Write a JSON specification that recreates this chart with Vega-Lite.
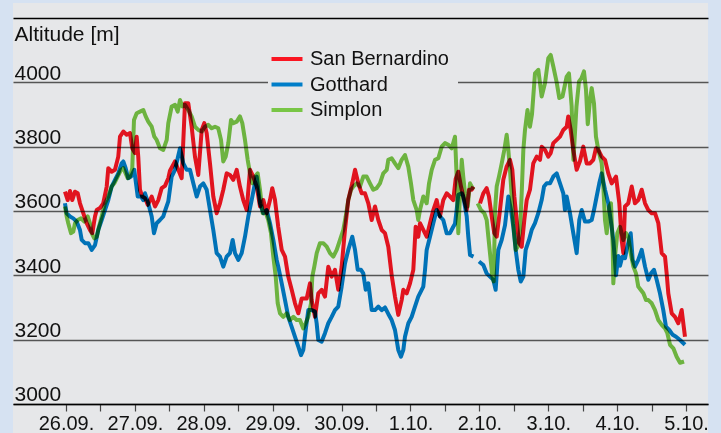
{
"$schema": "https://vega.github.io/schema/vega-lite/v6.json",
"width": 695,
"height": 430,
"autosize": {"type": "none"},
"padding": {"left": 13, "top": 3, "right": 13, "bottom": 0},
"background": "#d6e2f2",
"config": {"view": {"fill": "#e6e7e9", "stroke": null}, "font": "Liberation Sans"},
"data": {"values": [
{"pass":"San Bernardino","day":-0.015,"alt":3660},{"pass":"San Bernardino","day":0.025,"alt":3634},{"pass":"San Bernardino","day":0.058,"alt":3662},{"pass":"San Bernardino","day":0.091,"alt":3634},{"pass":"San Bernardino","day":0.131,"alt":3660},{"pass":"San Bernardino","day":0.170,"alt":3655},{"pass":"San Bernardino","day":0.203,"alt":3624},{"pass":"San Bernardino","day":0.251,"alt":3593},{"pass":"San Bernardino","day":0.300,"alt":3562},{"pass":"San Bernardino","day":0.348,"alt":3541},{"pass":"San Bernardino","day":0.382,"alt":3531},{"pass":"San Bernardino","day":0.421,"alt":3583},{"pass":"San Bernardino","day":0.446,"alt":3603},{"pass":"San Bernardino","day":0.493,"alt":3609},{"pass":"San Bernardino","day":0.541,"alt":3624},{"pass":"San Bernardino","day":0.591,"alt":3676},{"pass":"San Bernardino","day":0.614,"alt":3733},{"pass":"San Bernardino","day":0.663,"alt":3722},{"pass":"San Bernardino","day":0.711,"alt":3728},{"pass":"San Bernardino","day":0.759,"alt":3769},{"pass":"San Bernardino","day":0.784,"alt":3831},{"pass":"San Bernardino","day":0.832,"alt":3847},{"pass":"San Bernardino","day":0.881,"alt":3837},{"pass":"San Bernardino","day":0.929,"alt":3842},{"pass":"San Bernardino","day":0.962,"alt":3795},{"pass":"San Bernardino","day":1.001,"alt":3780},{"pass":"San Bernardino","day":1.026,"alt":3831},{"pass":"San Bernardino","day":1.049,"alt":3769},{"pass":"San Bernardino","day":1.074,"alt":3666},{"pass":"San Bernardino","day":1.107,"alt":3645},{"pass":"San Bernardino","day":1.147,"alt":3640},{"pass":"San Bernardino","day":1.186,"alt":3619},{"pass":"San Bernardino","day":1.244,"alt":3645},{"pass":"San Bernardino","day":1.292,"alt":3614},{"pass":"San Bernardino","day":1.340,"alt":3634},{"pass":"San Bernardino","day":1.389,"alt":3671},{"pass":"San Bernardino","day":1.437,"alt":3678},{"pass":"San Bernardino","day":1.485,"alt":3702},{"pass":"San Bernardino","day":1.509,"alt":3725},{"pass":"San Bernardino","day":1.582,"alt":3754},{"pass":"San Bernardino","day":1.630,"alt":3728},{"pass":"San Bernardino","day":1.679,"alt":3702},{"pass":"San Bernardino","day":1.727,"alt":3935},{"pass":"San Bernardino","day":1.775,"alt":3935},{"pass":"San Bernardino","day":1.824,"alt":3862},{"pass":"San Bernardino","day":1.872,"alt":3769},{"pass":"San Bernardino","day":1.920,"alt":3712},{"pass":"San Bernardino","day":1.970,"alt":3852},{"pass":"San Bernardino","day":2.007,"alt":3873},{"pass":"San Bernardino","day":2.042,"alt":3842},{"pass":"San Bernardino","day":2.090,"alt":3748},{"pass":"San Bernardino","day":2.138,"alt":3645},{"pass":"San Bernardino","day":2.187,"alt":3593},{"pass":"San Bernardino","day":2.235,"alt":3624},{"pass":"San Bernardino","day":2.283,"alt":3666},{"pass":"San Bernardino","day":2.332,"alt":3717},{"pass":"San Bernardino","day":2.380,"alt":3712},{"pass":"San Bernardino","day":2.428,"alt":3697},{"pass":"San Bernardino","day":2.478,"alt":3728},{"pass":"San Bernardino","day":2.525,"alt":3676},{"pass":"San Bernardino","day":2.573,"alt":3634},{"pass":"San Bernardino","day":2.623,"alt":3603},{"pass":"San Bernardino","day":2.671,"alt":3728},{"pass":"San Bernardino","day":2.718,"alt":3707},{"pass":"San Bernardino","day":2.768,"alt":3676},{"pass":"San Bernardino","day":2.816,"alt":3614},{"pass":"San Bernardino","day":2.864,"alt":3634},{"pass":"San Bernardino","day":2.913,"alt":3593},{"pass":"San Bernardino","day":2.961,"alt":3634},{"pass":"San Bernardino","day":2.994,"alt":3671},{"pass":"San Bernardino","day":3.033,"alt":3635},{"pass":"San Bernardino","day":3.081,"alt":3550},{"pass":"San Bernardino","day":3.131,"alt":3479},{"pass":"San Bernardino","day":3.179,"alt":3458},{"pass":"San Bernardino","day":3.226,"alt":3396},{"pass":"San Bernardino","day":3.276,"alt":3355},{"pass":"San Bernardino","day":3.324,"alt":3313},{"pass":"San Bernardino","day":3.372,"alt":3282},{"pass":"San Bernardino","day":3.421,"alt":3328},{"pass":"San Bernardino","day":3.494,"alt":3328},{"pass":"San Bernardino","day":3.541,"alt":3375},{"pass":"San Bernardino","day":3.566,"alt":3323},{"pass":"San Bernardino","day":3.614,"alt":3271},{"pass":"San Bernardino","day":3.662,"alt":3344},{"pass":"San Bernardino","day":3.711,"alt":3355},{"pass":"San Bernardino","day":3.759,"alt":3334},{"pass":"San Bernardino","day":3.807,"alt":3427},{"pass":"San Bernardino","day":3.856,"alt":3396},{"pass":"San Bernardino","day":3.904,"alt":3417},{"pass":"San Bernardino","day":3.952,"alt":3355},{"pass":"San Bernardino","day":4.001,"alt":3427},{"pass":"San Bernardino","day":4.049,"alt":3541},{"pass":"San Bernardino","day":4.097,"alt":3634},{"pass":"San Bernardino","day":4.155,"alt":3686},{"pass":"San Bernardino","day":4.195,"alt":3728},{"pass":"San Bernardino","day":4.242,"alt":3686},{"pass":"San Bernardino","day":4.292,"alt":3655},{"pass":"San Bernardino","day":4.340,"alt":3655},{"pass":"San Bernardino","day":4.388,"alt":3624},{"pass":"San Bernardino","day":4.437,"alt":3572},{"pass":"San Bernardino","day":4.485,"alt":3614},{"pass":"San Bernardino","day":4.533,"alt":3572},{"pass":"San Bernardino","day":4.582,"alt":3541},{"pass":"San Bernardino","day":4.630,"alt":3531},{"pass":"San Bernardino","day":4.678,"alt":3489},{"pass":"San Bernardino","day":4.727,"alt":3400},{"pass":"San Bernardino","day":4.775,"alt":3334},{"pass":"San Bernardino","day":4.823,"alt":3277},{"pass":"San Bernardino","day":4.872,"alt":3323},{"pass":"San Bernardino","day":4.896,"alt":3355},{"pass":"San Bernardino","day":4.945,"alt":3344},{"pass":"San Bernardino","day":4.993,"alt":3375},{"pass":"San Bernardino","day":5.041,"alt":3417},{"pass":"San Bernardino","day":5.075,"alt":3551},{"pass":"San Bernardino","day":5.113,"alt":3520},{"pass":"San Bernardino","day":5.138,"alt":3562},{"pass":"San Bernardino","day":5.186,"alt":3541},{"pass":"San Bernardino","day":5.235,"alt":3520},{"pass":"San Bernardino","day":5.283,"alt":3562},{"pass":"San Bernardino","day":5.331,"alt":3603},{"pass":"San Bernardino","day":5.380,"alt":3634},{"pass":"San Bernardino","day":5.428,"alt":3583},{"pass":"San Bernardino","day":5.476,"alt":3634},{"pass":"San Bernardino","day":5.525,"alt":3655},{"pass":"San Bernardino","day":5.573,"alt":3645},{"pass":"San Bernardino","day":5.621,"alt":3634},{"pass":"San Bernardino","day":5.656,"alt":3700},{"pass":"San Bernardino","day":5.694,"alt":3722},{"pass":"San Bernardino","day":5.733,"alt":3676},{"pass":"San Bernardino","day":5.766,"alt":3645},{"pass":"San Bernardino","day":5.816,"alt":3603},{"pass":"San Bernardino","day":5.849,"alt":3666},{"pass":"San Bernardino","day":5.888,"alt":3666},{"pass":"San Bernardino","day":5.912,"alt":3676},{"pass":"San Bernardino","day":5.951,"alt":null},{"pass":"San Bernardino","day":6.009,"alt":3624},{"pass":"San Bernardino","day":6.057,"alt":3655},{"pass":"San Bernardino","day":6.106,"alt":3671},{"pass":"San Bernardino","day":6.139,"alt":3645},{"pass":"San Bernardino","day":6.179,"alt":3583},{"pass":"San Bernardino","day":6.216,"alt":3531},{"pass":"San Bernardino","day":6.251,"alt":3520},{"pass":"San Bernardino","day":6.299,"alt":3603},{"pass":"San Bernardino","day":6.347,"alt":3697},{"pass":"San Bernardino","day":6.396,"alt":3738},{"pass":"San Bernardino","day":6.444,"alt":3759},{"pass":"San Bernardino","day":6.478,"alt":3728},{"pass":"San Bernardino","day":6.507,"alt":3645},{"pass":"San Bernardino","day":6.541,"alt":3572},{"pass":"San Bernardino","day":6.575,"alt":3500},{"pass":"San Bernardino","day":6.614,"alt":3489},{"pass":"San Bernardino","day":6.652,"alt":3572},{"pass":"San Bernardino","day":6.687,"alt":3634},{"pass":"San Bernardino","day":6.734,"alt":3666},{"pass":"San Bernardino","day":6.782,"alt":3748},{"pass":"San Bernardino","day":6.832,"alt":3769},{"pass":"San Bernardino","day":6.880,"alt":3759},{"pass":"San Bernardino","day":6.904,"alt":3800},{"pass":"San Bernardino","day":6.952,"alt":3790},{"pass":"San Bernardino","day":7.000,"alt":3769},{"pass":"San Bernardino","day":7.035,"alt":3780},{"pass":"San Bernardino","day":7.073,"alt":3811},{"pass":"San Bernardino","day":7.122,"alt":3821},{"pass":"San Bernardino","day":7.170,"alt":3831},{"pass":"San Bernardino","day":7.218,"alt":3852},{"pass":"San Bernardino","day":7.267,"alt":3862},{"pass":"San Bernardino","day":7.290,"alt":3894},{"pass":"San Bernardino","day":7.325,"alt":3852},{"pass":"San Bernardino","day":7.363,"alt":3790},{"pass":"San Bernardino","day":7.412,"alt":3728},{"pass":"San Bernardino","day":7.460,"alt":3755},{"pass":"San Bernardino","day":7.508,"alt":3800},{"pass":"San Bernardino","day":7.557,"alt":3748},{"pass":"San Bernardino","day":7.605,"alt":3748},{"pass":"San Bernardino","day":7.653,"alt":3759},{"pass":"San Bernardino","day":7.692,"alt":3795},{"pass":"San Bernardino","day":7.726,"alt":3790},{"pass":"San Bernardino","day":7.775,"alt":3769},{"pass":"San Bernardino","day":7.823,"alt":3759},{"pass":"San Bernardino","day":7.871,"alt":3717},{"pass":"San Bernardino","day":7.920,"alt":3686},{"pass":"San Bernardino","day":7.983,"alt":3707},{"pass":"San Bernardino","day":8.031,"alt":3624},{"pass":"San Bernardino","day":8.065,"alt":3510},{"pass":"San Bernardino","day":8.089,"alt":3469},{"pass":"San Bernardino","day":8.113,"alt":3614},{"pass":"San Bernardino","day":8.161,"alt":3624},{"pass":"San Bernardino","day":8.211,"alt":3676},{"pass":"San Bernardino","day":8.258,"alt":3624},{"pass":"San Bernardino","day":8.306,"alt":3634},{"pass":"San Bernardino","day":8.356,"alt":3666},{"pass":"San Bernardino","day":8.404,"alt":3624},{"pass":"San Bernardino","day":8.452,"alt":3603},{"pass":"San Bernardino","day":8.501,"alt":3593},{"pass":"San Bernardino","day":8.549,"alt":3593},{"pass":"San Bernardino","day":8.597,"alt":3562},{"pass":"San Bernardino","day":8.646,"alt":3469},{"pass":"San Bernardino","day":8.694,"alt":3458},{"pass":"San Bernardino","day":8.718,"alt":3406},{"pass":"San Bernardino","day":8.742,"alt":3344},{"pass":"San Bernardino","day":8.791,"alt":3282},{"pass":"San Bernardino","day":8.839,"alt":3271},{"pass":"San Bernardino","day":8.887,"alt":3251},{"pass":"San Bernardino","day":8.936,"alt":3292},{"pass":"San Bernardino","day":8.984,"alt":3209},
{"pass":"Gotthard","day":-0.015,"alt":3624},{"pass":"Gotthard","day":0.010,"alt":3593},{"pass":"Gotthard","day":0.058,"alt":3583},{"pass":"Gotthard","day":0.106,"alt":3577},{"pass":"Gotthard","day":0.155,"alt":3567},{"pass":"Gotthard","day":0.203,"alt":3541},{"pass":"Gotthard","day":0.228,"alt":3510},{"pass":"Gotthard","day":0.276,"alt":3500},{"pass":"Gotthard","day":0.324,"alt":3500},{"pass":"Gotthard","day":0.373,"alt":3479},{"pass":"Gotthard","day":0.421,"alt":3494},{"pass":"Gotthard","day":0.469,"alt":3541},{"pass":"Gotthard","day":0.518,"alt":3572},{"pass":"Gotthard","day":0.566,"alt":3603},{"pass":"Gotthard","day":0.614,"alt":3634},{"pass":"Gotthard","day":0.663,"alt":3676},{"pass":"Gotthard","day":0.711,"alt":3697},{"pass":"Gotthard","day":0.759,"alt":3717},{"pass":"Gotthard","day":0.808,"alt":3748},{"pass":"Gotthard","day":0.832,"alt":3754},{"pass":"Gotthard","day":0.866,"alt":3733},{"pass":"Gotthard","day":0.904,"alt":3702},{"pass":"Gotthard","day":0.943,"alt":3707},{"pass":"Gotthard","day":0.991,"alt":3728},{"pass":"Gotthard","day":1.016,"alt":3686},{"pass":"Gotthard","day":1.041,"alt":3645},{"pass":"Gotthard","day":1.089,"alt":3645},{"pass":"Gotthard","day":1.122,"alt":3634},{"pass":"Gotthard","day":1.147,"alt":3655},{"pass":"Gotthard","day":1.194,"alt":3624},{"pass":"Gotthard","day":1.244,"alt":3583},{"pass":"Gotthard","day":1.277,"alt":3531},{"pass":"Gotthard","day":1.316,"alt":3562},{"pass":"Gotthard","day":1.364,"alt":3572},{"pass":"Gotthard","day":1.412,"alt":3583},{"pass":"Gotthard","day":1.437,"alt":3600},{"pass":"Gotthard","day":1.485,"alt":3630},{"pass":"Gotthard","day":1.534,"alt":3707},{"pass":"Gotthard","day":1.582,"alt":3728},{"pass":"Gotthard","day":1.655,"alt":3795},{"pass":"Gotthard","day":1.703,"alt":3748},{"pass":"Gotthard","day":1.752,"alt":3728},{"pass":"Gotthard","day":1.800,"alt":3728},{"pass":"Gotthard","day":1.848,"alt":3686},{"pass":"Gotthard","day":1.897,"alt":3645},{"pass":"Gotthard","day":1.945,"alt":3676},{"pass":"Gotthard","day":1.993,"alt":3686},{"pass":"Gotthard","day":2.042,"alt":3666},{"pass":"Gotthard","day":2.090,"alt":3603},{"pass":"Gotthard","day":2.138,"alt":3541},{"pass":"Gotthard","day":2.187,"alt":3469},{"pass":"Gotthard","day":2.235,"alt":3458},{"pass":"Gotthard","day":2.283,"alt":3427},{"pass":"Gotthard","day":2.332,"alt":3458},{"pass":"Gotthard","day":2.380,"alt":3469},{"pass":"Gotthard","day":2.419,"alt":3510},{"pass":"Gotthard","day":2.453,"alt":3469},{"pass":"Gotthard","day":2.501,"alt":3448},{"pass":"Gotthard","day":2.550,"alt":3469},{"pass":"Gotthard","day":2.598,"alt":3520},{"pass":"Gotthard","day":2.646,"alt":3583},{"pass":"Gotthard","day":2.695,"alt":3634},{"pass":"Gotthard","day":2.733,"alt":3676},{"pass":"Gotthard","day":2.768,"alt":3707},{"pass":"Gotthard","day":2.816,"alt":3624},{"pass":"Gotthard","day":2.864,"alt":3593},{"pass":"Gotthard","day":2.913,"alt":3603},{"pass":"Gotthard","day":2.961,"alt":3562},{"pass":"Gotthard","day":3.009,"alt":3510},{"pass":"Gotthard","day":3.058,"alt":3448},{"pass":"Gotthard","day":3.081,"alt":3427},{"pass":"Gotthard","day":3.131,"alt":3375},{"pass":"Gotthard","day":3.179,"alt":3323},{"pass":"Gotthard","day":3.226,"alt":3271},{"pass":"Gotthard","day":3.276,"alt":3240},{"pass":"Gotthard","day":3.324,"alt":3209},{"pass":"Gotthard","day":3.372,"alt":3178},{"pass":"Gotthard","day":3.411,"alt":3152},{"pass":"Gotthard","day":3.444,"alt":3168},{"pass":"Gotthard","day":3.479,"alt":3230},{"pass":"Gotthard","day":3.517,"alt":3292},{"pass":"Gotthard","day":3.566,"alt":3292},{"pass":"Gotthard","day":3.614,"alt":3287},{"pass":"Gotthard","day":3.638,"alt":3251},{"pass":"Gotthard","day":3.662,"alt":3199},{"pass":"Gotthard","day":3.711,"alt":3194},{"pass":"Gotthard","day":3.759,"alt":3220},{"pass":"Gotthard","day":3.807,"alt":3251},{"pass":"Gotthard","day":3.856,"alt":3271},{"pass":"Gotthard","day":3.904,"alt":3292},{"pass":"Gotthard","day":3.952,"alt":3303},{"pass":"Gotthard","day":4.001,"alt":3365},{"pass":"Gotthard","day":4.049,"alt":3437},{"pass":"Gotthard","day":4.097,"alt":3479},{"pass":"Gotthard","day":4.155,"alt":3520},{"pass":"Gotthard","day":4.195,"alt":3479},{"pass":"Gotthard","day":4.234,"alt":3417},{"pass":"Gotthard","day":4.282,"alt":3417},{"pass":"Gotthard","day":4.315,"alt":3406},{"pass":"Gotthard","day":4.350,"alt":3355},{"pass":"Gotthard","day":4.388,"alt":3375},{"pass":"Gotthard","day":4.437,"alt":3292},{"pass":"Gotthard","day":4.485,"alt":3292},{"pass":"Gotthard","day":4.533,"alt":3303},{"pass":"Gotthard","day":4.582,"alt":3292},{"pass":"Gotthard","day":4.630,"alt":3300},{"pass":"Gotthard","day":4.678,"alt":3280},{"pass":"Gotthard","day":4.727,"alt":3261},{"pass":"Gotthard","day":4.775,"alt":3230},{"pass":"Gotthard","day":4.823,"alt":3168},{"pass":"Gotthard","day":4.862,"alt":3147},{"pass":"Gotthard","day":4.896,"alt":3168},{"pass":"Gotthard","day":4.920,"alt":3209},{"pass":"Gotthard","day":4.969,"alt":3251},{"pass":"Gotthard","day":5.017,"alt":3271},{"pass":"Gotthard","day":5.065,"alt":3303},{"pass":"Gotthard","day":5.113,"alt":3334},{"pass":"Gotthard","day":5.186,"alt":3365},{"pass":"Gotthard","day":5.211,"alt":3417},{"pass":"Gotthard","day":5.235,"alt":3479},{"pass":"Gotthard","day":5.283,"alt":3520},{"pass":"Gotthard","day":5.331,"alt":3562},{"pass":"Gotthard","day":5.380,"alt":3603},{"pass":"Gotthard","day":5.428,"alt":3583},{"pass":"Gotthard","day":5.476,"alt":3572},{"pass":"Gotthard","day":5.525,"alt":3531},{"pass":"Gotthard","day":5.573,"alt":3531},{"pass":"Gotthard","day":5.621,"alt":3551},{"pass":"Gotthard","day":5.646,"alt":3560},{"pass":"Gotthard","day":5.670,"alt":3603},{"pass":"Gotthard","day":5.694,"alt":3650},{"pass":"Gotthard","day":5.744,"alt":3655},{"pass":"Gotthard","day":5.766,"alt":3645},{"pass":"Gotthard","day":5.816,"alt":3583},{"pass":"Gotthard","day":5.839,"alt":3520},{"pass":"Gotthard","day":5.864,"alt":3463},{"pass":"Gotthard","day":5.914,"alt":3458},{"pass":"Gotthard","day":5.951,"alt":null},{"pass":"Gotthard","day":5.994,"alt":3443},{"pass":"Gotthard","day":6.057,"alt":3432},{"pass":"Gotthard","day":6.106,"alt":3406},{"pass":"Gotthard","day":6.154,"alt":3396},{"pass":"Gotthard","day":6.202,"alt":3386},{"pass":"Gotthard","day":6.236,"alt":3355},{"pass":"Gotthard","day":6.275,"alt":3479},{"pass":"Gotthard","day":6.324,"alt":3510},{"pass":"Gotthard","day":6.372,"alt":3556},{"pass":"Gotthard","day":6.420,"alt":3645},{"pass":"Gotthard","day":6.459,"alt":3603},{"pass":"Gotthard","day":6.492,"alt":3551},{"pass":"Gotthard","day":6.527,"alt":3479},{"pass":"Gotthard","day":6.565,"alt":3417},{"pass":"Gotthard","day":6.600,"alt":3381},{"pass":"Gotthard","day":6.638,"alt":3396},{"pass":"Gotthard","day":6.672,"alt":3479},{"pass":"Gotthard","day":6.720,"alt":3510},{"pass":"Gotthard","day":6.759,"alt":3541},{"pass":"Gotthard","day":6.807,"alt":3562},{"pass":"Gotthard","day":6.855,"alt":3593},{"pass":"Gotthard","day":6.904,"alt":3634},{"pass":"Gotthard","day":6.938,"alt":3676},{"pass":"Gotthard","day":6.977,"alt":3686},{"pass":"Gotthard","day":7.025,"alt":3686},{"pass":"Gotthard","day":7.073,"alt":3707},{"pass":"Gotthard","day":7.122,"alt":3717},{"pass":"Gotthard","day":7.170,"alt":3686},{"pass":"Gotthard","day":7.218,"alt":3655},{"pass":"Gotthard","day":7.242,"alt":3603},{"pass":"Gotthard","day":7.267,"alt":3645},{"pass":"Gotthard","day":7.315,"alt":3593},{"pass":"Gotthard","day":7.363,"alt":3531},{"pass":"Gotthard","day":7.412,"alt":3469},{"pass":"Gotthard","day":7.450,"alt":3572},{"pass":"Gotthard","day":7.485,"alt":3603},{"pass":"Gotthard","day":7.533,"alt":3567},{"pass":"Gotthard","day":7.581,"alt":3567},{"pass":"Gotthard","day":7.630,"alt":3572},{"pass":"Gotthard","day":7.663,"alt":3603},{"pass":"Gotthard","day":7.702,"alt":3645},{"pass":"Gotthard","day":7.740,"alt":3686},{"pass":"Gotthard","day":7.775,"alt":3717},{"pass":"Gotthard","day":7.823,"alt":3666},{"pass":"Gotthard","day":7.871,"alt":3624},{"pass":"Gotthard","day":7.906,"alt":3572},{"pass":"Gotthard","day":7.944,"alt":3510},{"pass":"Gotthard","day":7.983,"alt":3400},{"pass":"Gotthard","day":8.016,"alt":3460},{"pass":"Gotthard","day":8.041,"alt":3430},{"pass":"Gotthard","day":8.074,"alt":3458},{"pass":"Gotthard","day":8.113,"alt":3453},{"pass":"Gotthard","day":8.147,"alt":3489},{"pass":"Gotthard","day":8.196,"alt":3531},{"pass":"Gotthard","day":8.225,"alt":3448},{"pass":"Gotthard","day":8.258,"alt":3427},{"pass":"Gotthard","day":8.306,"alt":3448},{"pass":"Gotthard","day":8.356,"alt":3479},{"pass":"Gotthard","day":8.404,"alt":3427},{"pass":"Gotthard","day":8.452,"alt":3386},{"pass":"Gotthard","day":8.491,"alt":3406},{"pass":"Gotthard","day":8.534,"alt":3417},{"pass":"Gotthard","day":8.573,"alt":3386},{"pass":"Gotthard","day":8.621,"alt":3344},{"pass":"Gotthard","day":8.669,"alt":3292},{"pass":"Gotthard","day":8.708,"alt":3240},{"pass":"Gotthard","day":8.756,"alt":3230},{"pass":"Gotthard","day":8.806,"alt":3215},{"pass":"Gotthard","day":8.854,"alt":3209},{"pass":"Gotthard","day":8.912,"alt":3199},{"pass":"Gotthard","day":8.984,"alt":3184},
{"pass":"Simplon","day":-0.015,"alt":3614},{"pass":"Simplon","day":0.010,"alt":3583},{"pass":"Simplon","day":0.033,"alt":3562},{"pass":"Simplon","day":0.073,"alt":3531},{"pass":"Simplon","day":0.106,"alt":3536},{"pass":"Simplon","day":0.131,"alt":3562},{"pass":"Simplon","day":0.170,"alt":3572},{"pass":"Simplon","day":0.218,"alt":3577},{"pass":"Simplon","day":0.266,"alt":3567},{"pass":"Simplon","day":0.315,"alt":3583},{"pass":"Simplon","day":0.348,"alt":3562},{"pass":"Simplon","day":0.373,"alt":3531},{"pass":"Simplon","day":0.411,"alt":3515},{"pass":"Simplon","day":0.446,"alt":3520},{"pass":"Simplon","day":0.479,"alt":3551},{"pass":"Simplon","day":0.518,"alt":3583},{"pass":"Simplon","day":0.566,"alt":3624},{"pass":"Simplon","day":0.614,"alt":3645},{"pass":"Simplon","day":0.663,"alt":3676},{"pass":"Simplon","day":0.701,"alt":3686},{"pass":"Simplon","day":0.750,"alt":3707},{"pass":"Simplon","day":0.798,"alt":3728},{"pass":"Simplon","day":0.832,"alt":3733},{"pass":"Simplon","day":0.866,"alt":3717},{"pass":"Simplon","day":0.896,"alt":3702},{"pass":"Simplon","day":0.929,"alt":3707},{"pass":"Simplon","day":0.962,"alt":3733},{"pass":"Simplon","day":0.987,"alt":3883},{"pass":"Simplon","day":1.026,"alt":3904},{"pass":"Simplon","day":1.074,"alt":3909},{"pass":"Simplon","day":1.122,"alt":3914},{"pass":"Simplon","day":1.157,"alt":3894},{"pass":"Simplon","day":1.194,"alt":3878},{"pass":"Simplon","day":1.244,"alt":3862},{"pass":"Simplon","day":1.282,"alt":3831},{"pass":"Simplon","day":1.316,"alt":3821},{"pass":"Simplon","day":1.364,"alt":3795},{"pass":"Simplon","day":1.412,"alt":3790},{"pass":"Simplon","day":1.462,"alt":3821},{"pass":"Simplon","day":1.485,"alt":3873},{"pass":"Simplon","day":1.534,"alt":3925},{"pass":"Simplon","day":1.582,"alt":3930},{"pass":"Simplon","day":1.621,"alt":3909},{"pass":"Simplon","day":1.655,"alt":3945},{"pass":"Simplon","day":1.688,"alt":3925},{"pass":"Simplon","day":1.727,"alt":3930},{"pass":"Simplon","day":1.775,"alt":3914},{"pass":"Simplon","day":1.824,"alt":3894},{"pass":"Simplon","day":1.872,"alt":3862},{"pass":"Simplon","day":1.920,"alt":3852},{"pass":"Simplon","day":1.970,"alt":3847},{"pass":"Simplon","day":2.017,"alt":3862},{"pass":"Simplon","day":2.065,"alt":3868},{"pass":"Simplon","day":2.115,"alt":3857},{"pass":"Simplon","day":2.163,"alt":3862},{"pass":"Simplon","day":2.210,"alt":3857},{"pass":"Simplon","day":2.250,"alt":3821},{"pass":"Simplon","day":2.283,"alt":3754},{"pass":"Simplon","day":2.318,"alt":3769},{"pass":"Simplon","day":2.356,"alt":3811},{"pass":"Simplon","day":2.395,"alt":3883},{"pass":"Simplon","day":2.428,"alt":3873},{"pass":"Simplon","day":2.478,"alt":3878},{"pass":"Simplon","day":2.525,"alt":3894},{"pass":"Simplon","day":2.559,"alt":3873},{"pass":"Simplon","day":2.598,"alt":3821},{"pass":"Simplon","day":2.637,"alt":3759},{"pass":"Simplon","day":2.671,"alt":3717},{"pass":"Simplon","day":2.704,"alt":3686},{"pass":"Simplon","day":2.743,"alt":3707},{"pass":"Simplon","day":2.782,"alt":3717},{"pass":"Simplon","day":2.816,"alt":3666},{"pass":"Simplon","day":2.855,"alt":3593},{"pass":"Simplon","day":2.903,"alt":3593},{"pass":"Simplon","day":2.936,"alt":3572},{"pass":"Simplon","day":2.975,"alt":3531},{"pass":"Simplon","day":3.009,"alt":3458},{"pass":"Simplon","day":3.044,"alt":3396},{"pass":"Simplon","day":3.073,"alt":3313},{"pass":"Simplon","day":3.106,"alt":3282},{"pass":"Simplon","day":3.154,"alt":3271},{"pass":"Simplon","day":3.203,"alt":3282},{"pass":"Simplon","day":3.251,"alt":3261},{"pass":"Simplon","day":3.299,"alt":3271},{"pass":"Simplon","day":3.348,"alt":3261},{"pass":"Simplon","day":3.396,"alt":3261},{"pass":"Simplon","day":3.444,"alt":3235},{"pass":"Simplon","day":3.479,"alt":3251},{"pass":"Simplon","day":3.517,"alt":3271},{"pass":"Simplon","day":3.556,"alt":3313},{"pass":"Simplon","day":3.575,"alt":3396},{"pass":"Simplon","day":3.604,"alt":3427},{"pass":"Simplon","day":3.639,"alt":3469},{"pass":"Simplon","day":3.686,"alt":3500},{"pass":"Simplon","day":3.734,"alt":3500},{"pass":"Simplon","day":3.784,"alt":3489},{"pass":"Simplon","day":3.832,"alt":3469},{"pass":"Simplon","day":3.880,"alt":3458},{"pass":"Simplon","day":3.929,"alt":3479},{"pass":"Simplon","day":3.977,"alt":3510},{"pass":"Simplon","day":4.025,"alt":3541},{"pass":"Simplon","day":4.060,"alt":3583},{"pass":"Simplon","day":4.097,"alt":3634},{"pass":"Simplon","day":4.137,"alt":3666},{"pass":"Simplon","day":4.170,"alt":3676},{"pass":"Simplon","day":4.219,"alt":3686},{"pass":"Simplon","day":4.267,"alt":3676},{"pass":"Simplon","day":4.315,"alt":3707},{"pass":"Simplon","day":4.364,"alt":3707},{"pass":"Simplon","day":4.412,"alt":3686},{"pass":"Simplon","day":4.460,"alt":3666},{"pass":"Simplon","day":4.509,"alt":3671},{"pass":"Simplon","day":4.557,"alt":3686},{"pass":"Simplon","day":4.605,"alt":3717},{"pass":"Simplon","day":4.655,"alt":3728},{"pass":"Simplon","day":4.678,"alt":3759},{"pass":"Simplon","day":4.727,"alt":3764},{"pass":"Simplon","day":4.775,"alt":3748},{"pass":"Simplon","day":4.823,"alt":3733},{"pass":"Simplon","day":4.872,"alt":3759},{"pass":"Simplon","day":4.920,"alt":3774},{"pass":"Simplon","day":4.968,"alt":3738},{"pass":"Simplon","day":5.007,"alt":3686},{"pass":"Simplon","day":5.041,"alt":3634},{"pass":"Simplon","day":5.090,"alt":3603},{"pass":"Simplon","day":5.113,"alt":3572},{"pass":"Simplon","day":5.138,"alt":3603},{"pass":"Simplon","day":5.186,"alt":3645},{"pass":"Simplon","day":5.235,"alt":3624},{"pass":"Simplon","day":5.269,"alt":3686},{"pass":"Simplon","day":5.308,"alt":3728},{"pass":"Simplon","day":5.356,"alt":3759},{"pass":"Simplon","day":5.404,"alt":3764},{"pass":"Simplon","day":5.453,"alt":3800},{"pass":"Simplon","day":5.501,"alt":3811},{"pass":"Simplon","day":5.549,"alt":3806},{"pass":"Simplon","day":5.598,"alt":3795},{"pass":"Simplon","day":5.646,"alt":3831},{"pass":"Simplon","day":5.670,"alt":3707},{"pass":"Simplon","day":5.694,"alt":3531},{"pass":"Simplon","day":5.719,"alt":3655},{"pass":"Simplon","day":5.744,"alt":3759},{"pass":"Simplon","day":5.766,"alt":3707},{"pass":"Simplon","day":5.791,"alt":3655},{"pass":"Simplon","day":5.830,"alt":3614},{"pass":"Simplon","day":5.864,"alt":3686},{"pass":"Simplon","day":5.914,"alt":3666},{"pass":"Simplon","day":5.951,"alt":null},{"pass":"Simplon","day":5.975,"alt":3624},{"pass":"Simplon","day":6.023,"alt":3603},{"pass":"Simplon","day":6.071,"alt":3593},{"pass":"Simplon","day":6.106,"alt":3572},{"pass":"Simplon","day":6.130,"alt":3520},{"pass":"Simplon","day":6.159,"alt":3458},{"pass":"Simplon","day":6.188,"alt":3396},{"pass":"Simplon","day":6.208,"alt":3381},{"pass":"Simplon","day":6.227,"alt":3603},{"pass":"Simplon","day":6.251,"alt":3676},{"pass":"Simplon","day":6.284,"alt":3707},{"pass":"Simplon","day":6.324,"alt":3748},{"pass":"Simplon","day":6.362,"alt":3790},{"pass":"Simplon","day":6.396,"alt":3837},{"pass":"Simplon","day":6.420,"alt":3790},{"pass":"Simplon","day":6.444,"alt":3728},{"pass":"Simplon","day":6.469,"alt":3645},{"pass":"Simplon","day":6.492,"alt":3562},{"pass":"Simplon","day":6.527,"alt":3479},{"pass":"Simplon","day":6.556,"alt":3489},{"pass":"Simplon","day":6.590,"alt":3541},{"pass":"Simplon","day":6.614,"alt":3655},{"pass":"Simplon","day":6.638,"alt":3790},{"pass":"Simplon","day":6.662,"alt":3852},{"pass":"Simplon","day":6.698,"alt":3914},{"pass":"Simplon","day":6.734,"alt":3862},{"pass":"Simplon","day":6.763,"alt":3900},{"pass":"Simplon","day":6.807,"alt":4028},{"pass":"Simplon","day":6.855,"alt":4039},{"pass":"Simplon","day":6.904,"alt":3956},{"pass":"Simplon","day":6.952,"alt":3997},{"pass":"Simplon","day":7.000,"alt":4075},{"pass":"Simplon","day":7.035,"alt":4085},{"pass":"Simplon","day":7.073,"alt":4049},{"pass":"Simplon","day":7.122,"alt":4000},{"pass":"Simplon","day":7.160,"alt":3951},{"pass":"Simplon","day":7.206,"alt":3956},{"pass":"Simplon","day":7.267,"alt":4018},{"pass":"Simplon","day":7.300,"alt":4028},{"pass":"Simplon","day":7.339,"alt":3925},{"pass":"Simplon","day":7.365,"alt":3759},{"pass":"Simplon","day":7.409,"alt":3925},{"pass":"Simplon","day":7.446,"alt":4003},{"pass":"Simplon","day":7.482,"alt":4013},{"pass":"Simplon","day":7.518,"alt":4034},{"pass":"Simplon","day":7.547,"alt":3977},{"pass":"Simplon","day":7.573,"alt":3870},{"pass":"Simplon","day":7.605,"alt":3945},{"pass":"Simplon","day":7.630,"alt":3982},{"pass":"Simplon","day":7.663,"alt":3935},{"pass":"Simplon","day":7.692,"alt":3831},{"pass":"Simplon","day":7.726,"alt":3790},{"pass":"Simplon","day":7.775,"alt":3748},{"pass":"Simplon","day":7.799,"alt":3676},{"pass":"Simplon","day":7.823,"alt":3572},{"pass":"Simplon","day":7.848,"alt":3531},{"pass":"Simplon","day":7.886,"alt":3614},{"pass":"Simplon","day":7.910,"alt":3624},{"pass":"Simplon","day":7.935,"alt":3489},{"pass":"Simplon","day":7.944,"alt":3375},{"pass":"Simplon","day":7.968,"alt":3458},{"pass":"Simplon","day":8.002,"alt":3531},{"pass":"Simplon","day":8.041,"alt":3551},{"pass":"Simplon","day":8.089,"alt":3510},{"pass":"Simplon","day":8.128,"alt":3531},{"pass":"Simplon","day":8.161,"alt":3520},{"pass":"Simplon","day":8.196,"alt":3469},{"pass":"Simplon","day":8.235,"alt":3427},{"pass":"Simplon","day":8.273,"alt":3406},{"pass":"Simplon","day":8.306,"alt":3365},{"pass":"Simplon","day":8.341,"alt":3355},{"pass":"Simplon","day":8.380,"alt":3344},{"pass":"Simplon","day":8.418,"alt":3323},{"pass":"Simplon","day":8.452,"alt":3323},{"pass":"Simplon","day":8.501,"alt":3313},{"pass":"Simplon","day":8.549,"alt":3292},{"pass":"Simplon","day":8.597,"alt":3261},{"pass":"Simplon","day":8.646,"alt":3246},{"pass":"Simplon","day":8.694,"alt":3235},{"pass":"Simplon","day":8.728,"alt":3220},{"pass":"Simplon","day":8.767,"alt":3184},{"pass":"Simplon","day":8.815,"alt":3173},{"pass":"Simplon","day":8.863,"alt":3147},{"pass":"Simplon","day":8.912,"alt":3128},{"pass":"Simplon","day":8.970,"alt":3132}
]},
"mark": {"type": "line", "strokeWidth": 4, "strokeJoin": "round", "blend": "multiply", "invalid": "break-paths-filter-domains"},
"encoding": {
  "x": {"field": "day", "type": "quantitative",
    "scale": {"domain": [-0.769, 9.318], "nice": false, "zero": false},
    "axis": {"values": [0,0.5,1,1.5,2,2.5,3,3.5,4,4.5,5,5.5,6,6.5,7,7.5,8,8.5,9],
      "labelExpr": "datum.value % 1 === 0 ? ['26.09.','27.09.','28.09.','29.09.','30.09.','1.10.','2.10.','3.10.','4.10.','5.10.'][datum.value] : ''",
      "offset": -29, "domainColor": "#000", "domainWidth": 1.5, "tickColor": "#444", "tickSize": 7, "tickWidth": 1.2,
      "labelFontSize": 20, "labelColor": "#111", "labelPadding": 2, "labelOverlap": false, "labelFlush": false, "labelBound": false,
      "grid": false, "title": null}},
  "y": {"field": "alt", "type": "quantitative",
    "scale": {"domain": [2909.8, 4246.6], "nice": false, "zero": false},
    "axis": {"values": [3000,3200,3400,3600,3800,4000,4200], "format": "d",
      "labelExpr": "datum.value === 4200 ? '' : datum.label",
      "domain": false, "ticks": false, "tickSize": 0, "labelAlign": "left", "labelBaseline": "alphabetic",
      "labelPadding": -1, "labelOffset": -3, "labelFontSize": 21, "labelColor": "#111",
      "grid": true, "gridColor": {"condition": {"test": "datum.value === 4200", "value": "#000"}, "value": "#555"}, "gridWidth": 1.3,
      "title": "Altitude [m]", "titleAngle": 0, "titleAlign": "left", "titleBaseline": "alphabetic",
      "titleX": 1, "titleY": 37, "titleFontSize": 21, "titleFontWeight": "normal", "titleColor": "#111"}},
  "color": {"field": "pass", "type": "nominal",
    "scale": {"domain": ["San Bernardino", "Gotthard", "Simplon"], "range": ["#fa1622", "#007ec9", "#79c646"]},
    "legend": {"title": null, "orient": "none", "legendX": 255, "legendY": 37, "fillColor": "#e6e7e9", "padding": 9,
      "symbolType": "M-2,0H2", "symbolSize": 240, "symbolStrokeWidth": 4, "labelFontSize": 20, "labelColor": "#111",
      "labelOffset": 13, "rowPadding": 5.5}}
}
}
